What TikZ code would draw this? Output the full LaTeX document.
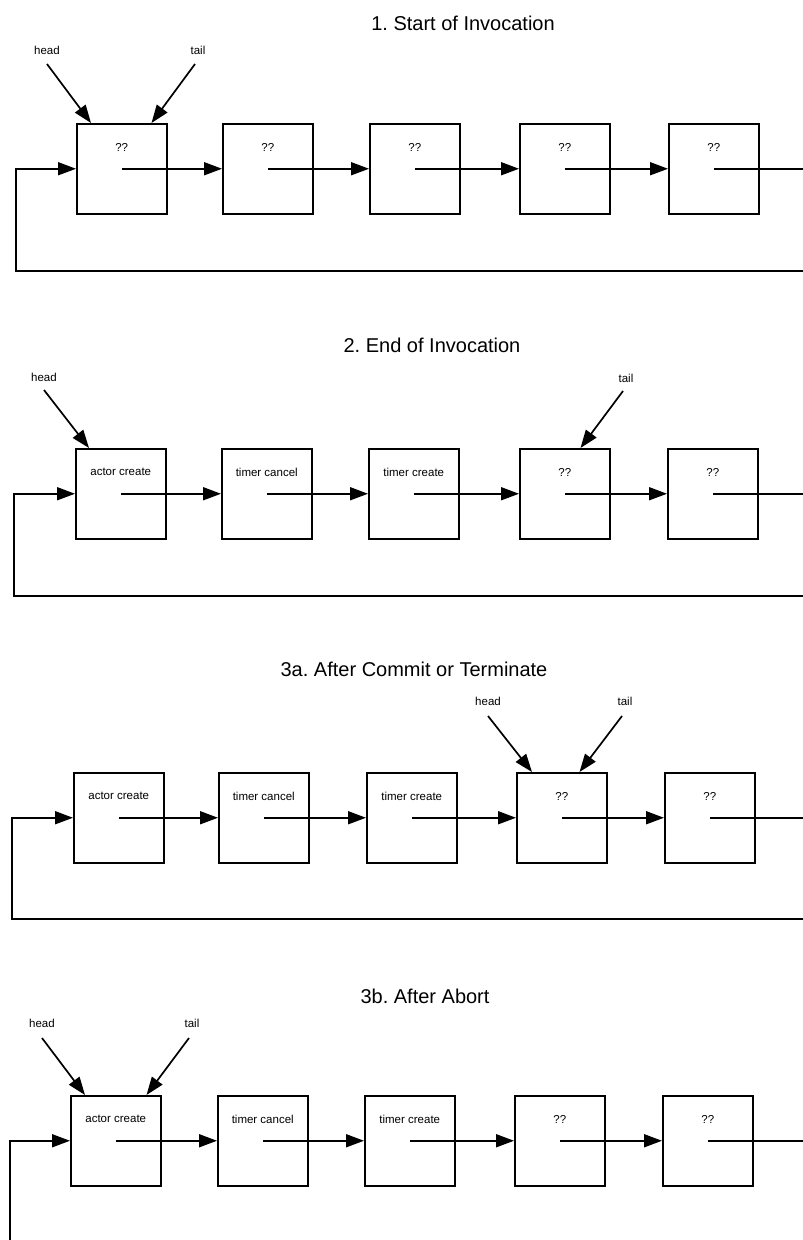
\documentclass[tikz,border=0pt]{standalone}
\usepackage{fontspec}
\setmainfont{Liberation Sans}
\usetikzlibrary{arrows.meta}
\frenchspacing
\begin{document}
\begin{tikzpicture}[x=1pt,y=-1pt,
  cell/.style={draw, line width=1.5pt, minimum width=90pt, minimum height=90pt, inner sep=0pt, anchor=north west},
  celltext/.style={font=\fontsize{11.5}{13}\selectfont, inner sep=0pt},
  ptr/.style={font=\fontsize{11.5}{13}\selectfont, inner sep=0pt, anchor=base},
  heading/.style={font=\fontsize{20}{24}\selectfont, inner sep=0pt, anchor=base},
  link/.style={line width=1.7pt, -{Triangle[length=18pt,width=13pt]}},
  wire/.style={line width=1.7pt},
]
\useasboundingbox (0,0) rectangle (803,1240);
\coordinate (edge) at (803,0);

% ---------- 1. Start of Invocation ----------
\node[heading] (t1) at (463,30) {1. Start of Invocation};
\node[ptr] (h1) at (47,54) {head};
\node[ptr] (tl1) at (198,54) {tail};
\node[cell] (a1) at (76,123) {};
\node[cell] (a2) at (222,123) {};
\node[cell] (a3) at (369,123) {};
\node[cell] (a4) at (519,123) {};
\node[cell] (a5) at (668,123) {};
\node[celltext] (a1t) at ([yshift=-24pt]a1.north) {??};
\node[celltext] (a2t) at ([yshift=-24pt]a2.north) {??};
\node[celltext] (a3t) at ([yshift=-24pt]a3.north) {??};
\node[celltext] (a4t) at ([yshift=-24pt]a4.north) {??};
\node[celltext] (a5t) at ([yshift=-24pt]a5.north) {??};
\draw[link] ([yshift=-10pt]h1.base) -- ([xshift=15pt]a1.north west);
\draw[link] ([xshift=-3pt,yshift=-10pt]tl1.base) -- ([xshift=-16pt]a1.north east);
\draw[link] (a1.center) -- (a2.west);
\draw[link] (a2.center) -- (a3.west);
\draw[link] (a3.center) -- (a4.west);
\draw[link] (a4.center) -- (a5.west);
\draw[wire] (a5.center) -- (a5.center -| edge);
\coordinate (la) at (16,271);
\draw[link] (la -| edge) -- (la) |- (a1.west);

% ---------- 2. End of Invocation ----------
\node[heading] (t2) at (432,352) {2. End of Invocation};
\node[ptr] (h2) at (44,381) {head};
\node[ptr] (tl2) at (626,382) {tail};
\node[cell] (b1) at (75,448) {};
\node[cell] (b2) at (221,448) {};
\node[cell] (b3) at (368,448) {};
\node[cell] (b4) at (519,448) {};
\node[cell] (b5) at (667,448) {};
\node[celltext] (b1t) at ([yshift=-24pt]b1.north) {actor create};
\node[celltext] (b2t) at ([yshift=-24pt]b2.north) {timer cancel};
\node[celltext] (b3t) at ([yshift=-24pt]b3.north) {timer create};
\node[celltext] (b4t) at ([yshift=-24pt]b4.north) {??};
\node[celltext] (b5t) at ([yshift=-24pt]b5.north) {??};
\draw[link] ([yshift=-9pt]h2.base) -- ([xshift=14pt]b1.north west);
\draw[link] ([xshift=-3pt,yshift=-9pt]tl2.base) -- ([xshift=-30pt]b4.north east);
\draw[link] (b1.center) -- (b2.west);
\draw[link] (b2.center) -- (b3.west);
\draw[link] (b3.center) -- (b4.west);
\draw[link] (b4.center) -- (b5.west);
\draw[wire] (b5.center) -- (b5.center -| edge);
\coordinate (lb) at (14,596);
\draw[link] (lb -| edge) -- (lb) |- (b1.west);

% ---------- 3a. After Commit or Terminate ----------
\node[heading] (t3) at (414,676) {3a. After Commit or Terminate};
\node[ptr] (h3) at (488,705) {head};
\node[ptr] (tl3) at (625,705) {tail};
\node[cell] (c1) at (73,772) {};
\node[cell] (c2) at (218,772) {};
\node[cell] (c3) at (366,772) {};
\node[cell] (c4) at (516,772) {};
\node[cell] (c5) at (664,772) {};
\node[celltext] (c1t) at ([yshift=-24pt]c1.north) {actor create};
\node[celltext] (c2t) at ([yshift=-24pt]c2.north) {timer cancel};
\node[celltext] (c3t) at ([yshift=-24pt]c3.north) {timer create};
\node[celltext] (c4t) at ([yshift=-24pt]c4.north) {??};
\node[celltext] (c5t) at ([yshift=-24pt]c5.north) {??};
\draw[link] ([yshift=-11pt]h3.base) -- ([xshift=16pt]c4.north west);
\draw[link] ([xshift=-3pt,yshift=-11pt]tl3.base) -- ([xshift=-28pt]c4.north east);
\draw[link] (c1.center) -- (c2.west);
\draw[link] (c2.center) -- (c3.west);
\draw[link] (c3.center) -- (c4.west);
\draw[link] (c4.center) -- (c5.west);
\draw[wire] (c5.center) -- (c5.center -| edge);
\coordinate (lc) at (12,919);
\draw[link] (lc -| edge) -- (lc) |- (c1.west);

% ---------- 3b. After Abort ----------
\node[heading] (t4) at (425,1003) {3b. After Abort};
\node[ptr] (h4) at (42,1027) {head};
\node[ptr] (tl4) at (192,1027) {tail};
\node[cell] (d1) at (70,1095) {};
\node[cell] (d2) at (217,1095) {};
\node[cell] (d3) at (364,1095) {};
\node[cell] (d4) at (514,1095) {};
\node[cell] (d5) at (662,1095) {};
\node[celltext] (d1t) at ([yshift=-24pt]d1.north) {actor create};
\node[celltext] (d2t) at ([yshift=-24pt]d2.north) {timer cancel};
\node[celltext] (d3t) at ([yshift=-24pt]d3.north) {timer create};
\node[celltext] (d4t) at ([yshift=-24pt]d4.north) {??};
\node[celltext] (d5t) at ([yshift=-24pt]d5.north) {??};
\draw[link] ([yshift=-11pt]h4.base) -- ([xshift=15pt]d1.north west);
\draw[link] ([xshift=-3pt,yshift=-11pt]tl4.base) -- ([xshift=-15pt]d1.north east);
\draw[link] (d1.center) -- (d2.west);
\draw[link] (d2.center) -- (d3.west);
\draw[link] (d3.center) -- (d4.west);
\draw[link] (d4.center) -- (d5.west);
\draw[wire] (d5.center) -- (d5.center -| edge);
\coordinate (ld) at (10,1240);
\draw[link] (ld) |- (d1.west);
\end{tikzpicture}
\end{document}
